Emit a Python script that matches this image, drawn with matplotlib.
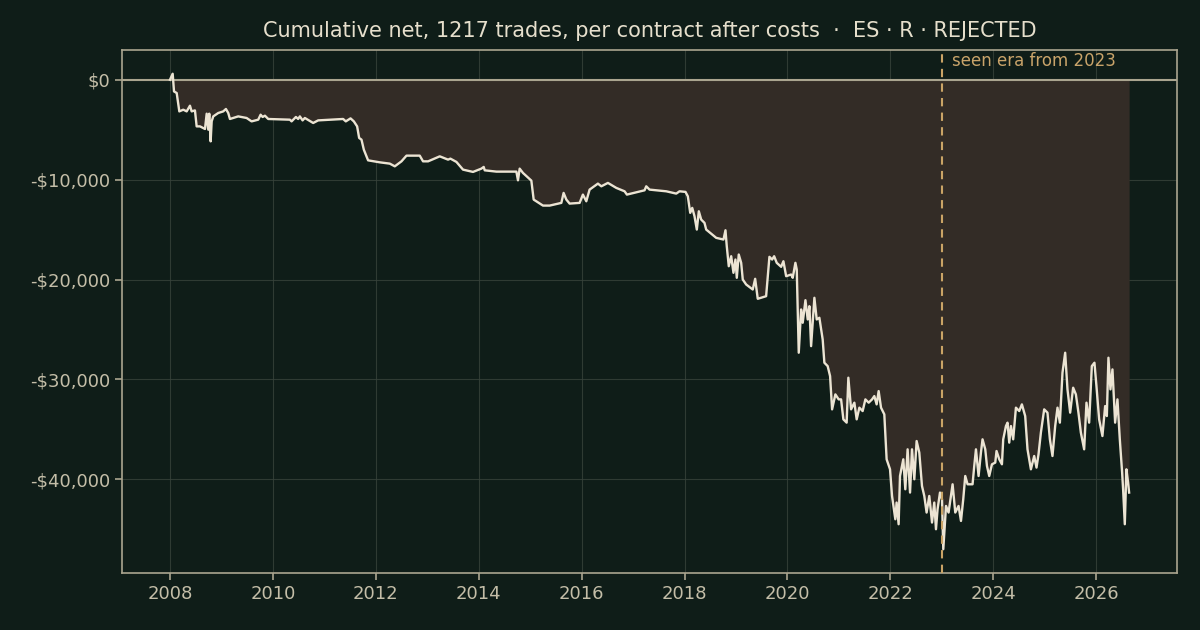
import matplotlib
matplotlib.use('Agg')
import matplotlib.pyplot as plt
from matplotlib.ticker import FuncFormatter

# cumulative net per contract (decimal year, dollars)
years = [
    2008.000, 2008.052, 2008.078, 2008.130, 2008.181, 2008.258, 2008.324, 2008.388,
    2008.421, 2008.485, 2008.518, 2008.583, 2008.680, 2008.713, 2008.744, 2008.763,
    2008.790, 2008.810, 2008.841, 2008.938, 2009.035, 2009.087, 2009.132, 2009.165,
    2009.326, 2009.489, 2009.586, 2009.715, 2009.761, 2009.800, 2009.845, 2009.909,
    2010.330, 2010.363, 2010.447, 2010.491, 2010.524, 2010.577, 2010.621, 2010.783,
    2010.880, 2011.365, 2011.417, 2011.509, 2011.573, 2011.637, 2011.676, 2011.722,
    2011.767, 2011.850, 2012.078, 2012.272, 2012.369, 2012.499, 2012.596, 2012.854,
    2012.918, 2013.016, 2013.243, 2013.404, 2013.450, 2013.567, 2013.695, 2013.889,
    2014.052, 2014.097, 2014.117, 2014.344, 2014.732, 2014.763, 2014.796, 2014.860,
    2015.023, 2015.068, 2015.151, 2015.249, 2015.379, 2015.606, 2015.650, 2015.703,
    2015.767, 2015.961, 2016.025, 2016.091, 2016.155, 2016.317, 2016.383, 2016.511,
    2016.674, 2016.835, 2016.880, 2017.223, 2017.256, 2017.320, 2017.645, 2017.839,
    2017.903, 2018.019, 2018.064, 2018.111, 2018.150, 2018.194, 2018.239, 2018.278,
    2018.324, 2018.388, 2018.421, 2018.616, 2018.757, 2018.796, 2018.821, 2018.860,
    2018.907, 2018.951, 2018.990, 2019.016, 2019.054, 2019.101, 2019.132, 2019.198,
    2019.326, 2019.373, 2019.423, 2019.586, 2019.650, 2019.703, 2019.742, 2019.792,
    2019.878, 2019.922, 2019.975, 2020.072, 2020.103, 2020.155, 2020.181, 2020.220,
    2020.266, 2020.297, 2020.350, 2020.394, 2020.427, 2020.460, 2020.524, 2020.569,
    2020.621, 2020.685, 2020.718, 2020.782, 2020.829, 2020.868, 2020.932, 2020.996,
    2021.043, 2021.087, 2021.151, 2021.184, 2021.237, 2021.301, 2021.346, 2021.398,
    2021.462, 2021.515, 2021.579, 2021.645, 2021.689, 2021.734, 2021.773, 2021.819,
    2021.883, 2021.928, 2021.994, 2022.033, 2022.097, 2022.122, 2022.161, 2022.188,
    2022.252, 2022.291, 2022.336, 2022.383, 2022.421, 2022.466, 2022.511, 2022.563,
    2022.615, 2022.660, 2022.705, 2022.757, 2022.810, 2022.854, 2022.887, 2022.918,
    2022.965, 2023.004, 2023.029, 2023.082, 2023.132, 2023.210, 2023.262, 2023.326,
    2023.373, 2023.417, 2023.456, 2023.501, 2023.598, 2023.631, 2023.664, 2023.715,
    2023.761, 2023.792, 2023.845, 2023.878, 2023.922, 2023.975, 2024.039, 2024.064,
    2024.117, 2024.169, 2024.194, 2024.247, 2024.278, 2024.311, 2024.344, 2024.388,
    2024.441, 2024.505, 2024.557, 2024.621, 2024.666, 2024.732, 2024.796, 2024.841,
    2024.880, 2024.926, 2024.990, 2025.054, 2025.101, 2025.151, 2025.204, 2025.249,
    2025.295, 2025.346, 2025.398, 2025.443, 2025.495, 2025.553, 2025.606, 2025.656,
    2025.703, 2025.767, 2025.812, 2025.864, 2025.916, 2025.967, 2026.006, 2026.058,
    2026.122, 2026.175, 2026.208, 2026.239, 2026.278, 2026.317, 2026.369, 2026.414,
    2026.460, 2026.505, 2026.524, 2026.557, 2026.588, 2026.621, 2026.641,
]
cum_net = [
    0, 600, -1170, -1330, -3170, -3000, -3170, -2600,
    -3170, -3070, -4670, -4670, -4930, -3400, -5000, -3400,
    -6170, -4170, -3670, -3330, -3170, -2930, -3330, -3930,
    -3670, -3830, -4170, -4000, -3500, -3730, -3600, -3930,
    -4000, -4170, -3730, -3930, -3670, -4070, -3830, -4330,
    -4070, -3930, -4170, -3870, -4170, -4670, -5830, -6000,
    -7000, -8070, -8270, -8400, -8670, -8170, -7600, -7600,
    -8170, -8170, -7670, -8000, -7900, -8230, -9000, -9230,
    -8900, -8730, -9070, -9200, -9200, -10070, -8900, -9330,
    -10100, -12000, -12270, -12600, -12600, -12330, -11330, -12000,
    -12400, -12330, -11500, -12170, -11000, -10400, -10670, -10330,
    -10830, -11170, -11500, -11070, -10670, -11000, -11170, -11400,
    -11170, -11230, -11670, -13330, -12830, -13670, -15000, -13170,
    -14000, -14330, -15000, -15830, -16000, -15070, -16670, -18670,
    -17670, -19330, -18000, -19830, -17500, -18330, -20000, -20500,
    -21000, -19930, -21930, -21670, -17730, -18000, -17670, -18330,
    -18730, -18170, -19670, -19500, -19830, -18330, -19000, -27330,
    -23000, -24330, -22070, -24000, -22670, -26670, -21830, -24000,
    -23830, -26000, -28330, -28670, -29670, -33000, -31500, -32000,
    -32000, -34000, -34330, -29830, -33000, -32330, -34000, -32830,
    -33170, -32000, -32330, -32000, -31670, -32500, -31170, -32830,
    -33500, -38000, -39000, -41670, -44000, -42330, -44500, -39670,
    -38000, -41000, -37000, -41330, -37000, -40000, -36170, -37330,
    -40670, -41670, -43330, -41670, -44330, -42330, -45000, -43000,
    -41330, -42000, -47000, -42670, -43330, -40500, -43330, -42670,
    -44170, -42000, -39670, -40500, -40500, -38670, -37000, -39670,
    -37330, -36000, -37000, -38670, -39670, -38500, -38330, -37170,
    -38000, -38500, -36000, -34670, -34330, -36330, -34670, -36000,
    -32830, -33170, -32500, -33670, -37000, -39000, -37670, -38830,
    -37500, -35330, -33000, -33330, -36000, -37670, -34670, -32830,
    -34330, -29330, -27330, -31000, -33330, -30830, -31500, -33330,
    -35330, -37000, -32330, -34330, -28670, -28330, -30670, -34000,
    -35670, -32670, -33670, -27830, -31000, -29000, -34330, -32000,
    -36000, -39330, -41000, -44500, -39000, -40330, -41330,
]
seen_from = 2023.0
xtick_years = [2008, 2010, 2012, 2014, 2016, 2018, 2020, 2022, 2024, 2026]

bg = '#0f1d18'
axis_col = '#aaa58f'
text_col = '#c4bea8'

fig = plt.figure(figsize=(12, 6.3), dpi=100, facecolor=bg)
ax = fig.add_axes([0.1017, 0.0905, 0.8792, 0.8302])
ax.set_facecolor(bg)

ax.fill_between(years, cum_net, 0, color='#332c26', linewidth=0, zorder=1)
ax.plot(years, cum_net, color='#ece4d3', linewidth=1.7, zorder=3)
ax.axhline(0, color=axis_col, linewidth=1.5, zorder=2)
ax.axvline(seen_from, color='#caa466', linewidth=1.5, linestyle=(0, (4, 3)), zorder=4)
ax.text(seen_from + 0.2, 0.996, 'seen era from 2023', transform=ax.get_xaxis_transform(),
        color='#c9a46a', fontsize=12, va='top', ha='left')

ax.set_xticks(xtick_years)
ax.set_xticklabels([str(y) for y in xtick_years])
ax.yaxis.set_major_formatter(FuncFormatter(lambda v, p: '$0' if v == 0 else ('-$%s' % format(int(abs(v)), ',') if v < 0 else '$%s' % format(int(v), ','))))
ax.set_yticks([0, -10000, -20000, -30000, -40000])

ax.grid(True, color='#38433b', linewidth=0.8, alpha=0.8)
ax.set_axisbelow(True)
for s in ax.spines.values():
    s.set_color(axis_col)
    s.set_linewidth(1.2)
ax.tick_params(colors=axis_col, labelcolor=text_col, labelsize=13, length=5, width=1.2)

ax.set_title('Cumulative net, 1217 trades, per contract after costs  \u00b7  ES \u00b7 R \u00b7 REJECTED',
             color='#e6dfcc', fontsize=15, pad=9)

fig.savefig('out.png', dpi=100, facecolor=bg)
